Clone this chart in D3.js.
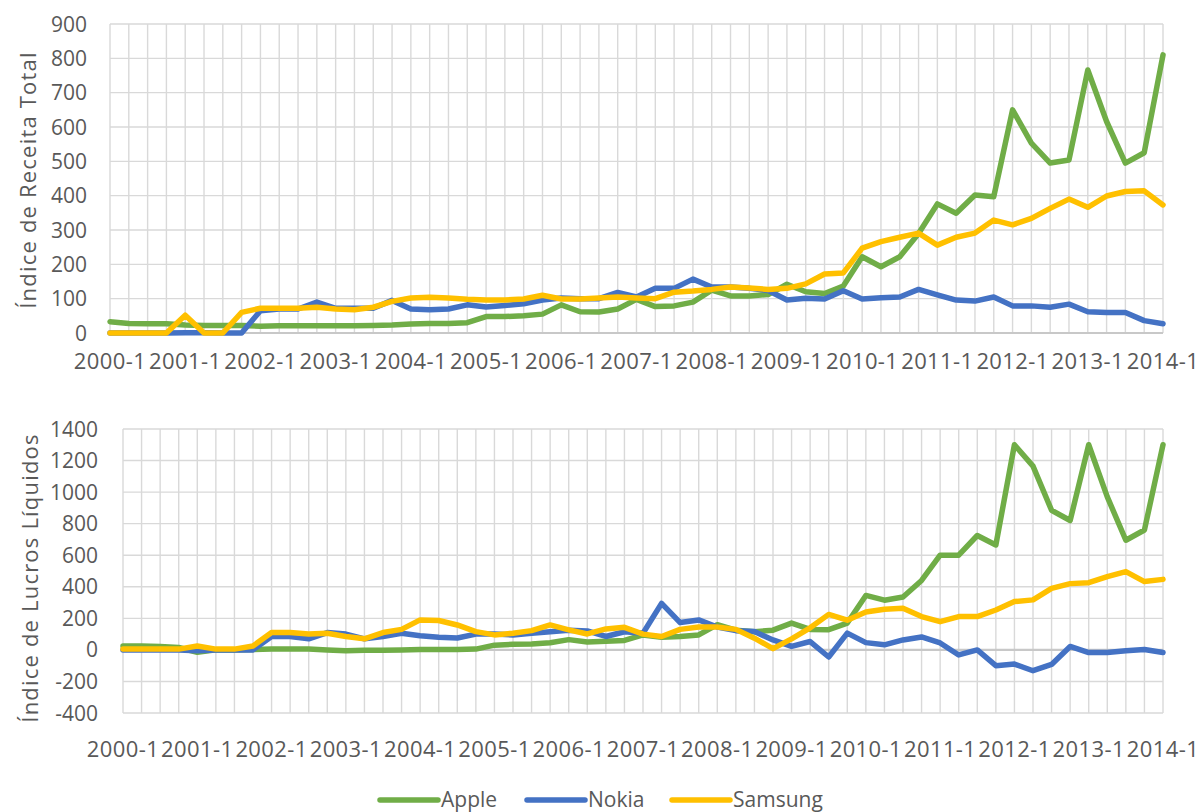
<!DOCTYPE html>
<html>
<head>
<meta charset="utf-8">
<script src="https://cdn.jsdelivr.net/npm/d3@7"></script>
<style>
  html, body { margin: 0; padding: 0; background: #ffffff; }
  svg { display: block; }
  text { font-family: "Open Sans", "Noto Sans", sans-serif; fill: #595959; }
</style>
</head>
<body>
<svg id="chart" width="1199" height="812"></svg>
<script>
// ---------- DATA ----------
const quarters = [
  "2000-1","2000-2","2000-3","2000-4","2001-1","2001-2","2001-3","2001-4",
  "2002-1","2002-2","2002-3","2002-4","2003-1","2003-2","2003-3","2003-4",
  "2004-1","2004-2","2004-3","2004-4","2005-1","2005-2","2005-3","2005-4",
  "2006-1","2006-2","2006-3","2006-4","2007-1","2007-2","2007-3","2007-4",
  "2008-1","2008-2","2008-3","2008-4","2009-1","2009-2","2009-3","2009-4",
  "2010-1","2010-2","2010-3","2010-4","2011-1","2011-2","2011-3","2011-4",
  "2012-1","2012-2","2012-3","2012-4","2013-1","2013-2","2013-3","2013-4",
  "2014-1"
];
const xTickLabels = ["2000-1","2001-1","2002-1","2003-1","2004-1","2005-1","2006-1",
  "2007-1","2008-1","2009-1","2010-1","2011-1","2012-1","2013-1","2014-1"];

const seriesNames = ["Apple", "Nokia", "Samsung"];
const seriesColors = ["#70AD47", "#4472C4", "#FFC000"];

// Índice de Receita Total
const revenueApple = [33,28,27,27,23,22,22,22,20,21,21,21,21,21,22,23,26,28,28,30,
  48,48,50,55,82,62,61,70,98,77,79,90,125,108,108,112,142,120,115,137,
  222,193,222,290,376,349,402,397,650,553,495,504,766,616,495,525,810];
const revenueNokia = [0,0,0,0,1,1,0,0,65,70,70,90,72,72,72,95,70,68,70,82,
  76,80,85,96,102,100,100,118,105,130,130,157,134,134,130,124,96,101,99,123,
  99,103,105,127,111,96,93,105,79,79,75,84,62,60,60,36,27];
const revenueSamsung = [0,0,0,0,52,0,0,60,72,72,72,75,70,68,75,92,102,104,102,98,
  96,96,99,110,99,99,102,105,102,100,119,122,127,134,131,127,130,143,172,175,
  247,266,279,291,256,279,291,329,315,334,363,390,366,399,412,414,373];

// Índice de Lucros Líquidos
const profitApple = [25,25,22,15,-15,0,0,2,5,5,5,0,-5,-3,-2,0,2,2,2,5,
  30,35,38,45,65,50,55,60,95,80,85,95,160,125,115,125,170,130,128,170,
  345,315,335,440,600,600,725,665,1300,1165,885,820,1300,970,695,760,1300];
const profitNokia = [0,0,0,0,-5,0,0,0,85,85,70,110,100,70,85,105,90,80,75,100,
  100,95,105,115,125,120,85,115,105,295,173,190,145,122,116,63,22,53,-45,106,
  46,32,63,82,44,-32,0,-100,-90,-132,-92,22,-17,-17,-5,3,-17];
const profitSamsung = [5,5,5,5,25,5,5,25,110,110,100,105,85,70,110,130,190,186,158,116,
  95,106,122,158,127,101,133,143,100,85,130,145,145,130,74,8,70,140,225,188,
  240,257,264,211,179,211,211,253,306,317,390,420,426,464,496,433,447];

const revenueTicks = [0,100,200,300,400,500,600,700,800,900];
const profitTicks = [-400,-200,0,200,400,600,800,1000,1200,1400];

// ---------- DRAW ----------
const svg = d3.select("#chart");

function drawPanel(cfg) {
  const g = svg.append("g");
  const x = d3.scaleLinear().domain([0, quarters.length - 1]).range([cfg.left, cfg.right]);
  const y = d3.scaleLinear().domain([cfg.ticks[0], cfg.ticks[cfg.ticks.length - 1]])
    .range([cfg.bottom, cfg.top]);

  // vertical gridlines at each category
  g.append("g").selectAll("line").data(quarters).join("line")
    .attr("x1", (d, i) => x(i)).attr("x2", (d, i) => x(i))
    .attr("y1", cfg.top).attr("y2", cfg.bottom)
    .attr("stroke", "#d9d9d9").attr("stroke-width", 1.4);

  // horizontal gridlines
  g.append("g").selectAll("line").data(cfg.ticks).join("line")
    .attr("x1", cfg.left).attr("x2", cfg.right)
    .attr("y1", d => y(d)).attr("y2", d => y(d))
    .attr("stroke", d => d === 0 ? "#c8c8c8" : "#d9d9d9")
    .attr("stroke-width", d => d === 0 ? 2.2 : 1.4);

  // y tick labels
  g.append("g").selectAll("text").data(cfg.ticks).join("text")
    .attr("x", cfg.yLabelX).attr("y", d => y(d)).attr("dy", "0.36em")
    .attr("text-anchor", "end").style("font-size", "21px").text(d => d);

  // x tick labels
  g.append("g").selectAll("text").data(xTickLabels).join("text")
    .attr("x", d => x(quarters.indexOf(d))).attr("y", cfg.xLabelY)
    .attr("text-anchor", "middle").style("font-size", "22px").style("letter-spacing", "0.4px")
    .text(d => d);

  // axis title
  g.append("text")
    .attr("transform", `translate(${cfg.titleX},${cfg.titleY}) rotate(-90)`)
    .attr("text-anchor", "middle").attr("dy", "0.35em")
    .style("font-size", "22px").style("letter-spacing", "1.2px")
    .text(cfg.title);

  // lines
  const line = d3.line().x((d, i) => x(i)).y(d => y(d));
  cfg.series.forEach((s, k) => {
    g.append("path").datum(s)
      .attr("fill", "none").attr("stroke", seriesColors[k])
      .attr("stroke-width", 5.5).attr("stroke-linejoin", "round").attr("stroke-linecap", "round")
      .attr("d", line);
  });
}

drawPanel({
  left: 110, right: 1163, top: 24, bottom: 333,
  ticks: revenueTicks, yLabelX: 87, xLabelY: 369,
  titleX: 28, titleY: 180, title: "Índice de Receita Total",
  series: [revenueApple, revenueNokia, revenueSamsung]
});

drawPanel({
  left: 123, right: 1163, top: 429, bottom: 713,
  ticks: profitTicks, yLabelX: 98, xLabelY: 757,
  titleX: 30, titleY: 578, title: "Índice de Lucros Líquidos",
  series: [profitApple, profitNokia, profitSamsung]
});

// legend
const legendStarts = [380, 527, 672];
const legend = svg.append("g");
seriesNames.forEach((name, k) => {
  const lx = legendStarts[k];
  legend.append("line")
    .attr("x1", lx).attr("x2", lx + 58).attr("y1", 800).attr("y2", 800)
    .attr("stroke", seriesColors[k]).attr("stroke-width", 5.5).attr("stroke-linecap", "round");
  legend.append("text")
    .attr("x", lx + 61).attr("y", 800).attr("dy", "0.35em")
    .style("font-size", "21px").text(name);
});
</script>
</body>
</html>
